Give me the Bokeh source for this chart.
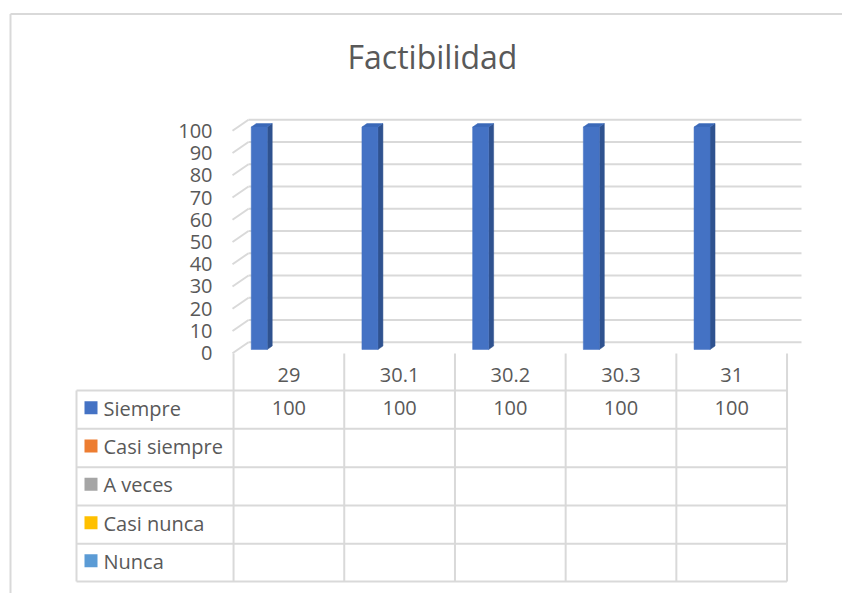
from bokeh.plotting import figure
from bokeh.models import Range1d
from bokeh.core.properties import value
from bokeh.embed import file_html
from bokeh.resources import INLINE

# ---------------- data ----------------
title_text = "Factibilidad"
categories = ["29", "30.1", "30.2", "30.3", "31"]
series_names = ["Siempre", "Casi siempre", "A veces", "Casi nunca", "Nunca"]
siempre = [100, 100, 100, 100, 100]
casi_siempre = [None, None, None, None, None]
a_veces = [None, None, None, None, None]
casi_nunca = [None, None, None, None, None]
nunca = [None, None, None, None, None]
y_ticks = [0, 10, 20, 30, 40, 50, 60, 70, 80, 90, 100]

series_values = [siempre, casi_siempre, a_veces, casi_nunca, nunca]

# ---------------- styles ----------------
series_colors = ["#4472C4", "#ED7D31", "#A5A5A5", "#FFC000", "#5B9BD5"]
bar_side = "#2F528F"
bar_top = "#3B68B8"
grid_col = "#D9D9D9"
text_col = "#595959"
FONT = value("Open Sans")

# ---------------- layout (figure pixels) ----------------
W, H = 842, 593
CAT0_PX = 288.4      # pixel centre of first category
CAT_W = 110.7        # pixel width of a category column
ZERO_PY = 341.7      # pixel y of value 0 on the back wall
PX_PER_UNIT = 2.224  # pixels per value unit


def px_x(px):
    return (px - CAT0_PX) / CAT_W


def py_y(py):
    return (ZERO_PY - py) / PX_PER_UNIT


p = figure(width=W, height=H, output_backend="svg", toolbar_location=None,
           x_range=Range1d(px_x(0), px_x(W)), y_range=Range1d(py_y(H), py_y(0)),
           x_axis_type=None, y_axis_type=None, min_border=0)
p.outline_line_color = None
p.background_fill_color = "white"
p.border_fill_color = "white"

# chart border (top and left visible)
p.segment(x0=[px_x(10), px_x(10)], y0=[py_y(13.5), py_y(13.5)],
          x1=[px_x(W + 5), px_x(10)], y1=[py_y(13.5), py_y(H + 5)],
          line_color=grid_col, line_width=2)

# title
p.text(x=[px_x(432)], y=[py_y(55.5)], text=[title_text], text_font=FONT,
       text_font_size=value("32px"), text_color=text_col,
       text_align="center", text_baseline="middle")

# back-wall gridlines and side-wall diagonals
n = len(categories)
wall_left = px_x(248)
wall_right = px_x(801)
depth_dx = px_x(248) - px_x(232)
depth_dy = 11 / PX_PER_UNIT
p.segment(x0=[wall_left] * len(y_ticks), y0=y_ticks,
          x1=[wall_right] * len(y_ticks), y1=y_ticks,
          line_color=grid_col, line_width=2)
p.segment(x0=[wall_left - depth_dx] * len(y_ticks), y0=[t - depth_dy for t in y_ticks],
          x1=[wall_left] * len(y_ticks), y1=y_ticks,
          line_color=grid_col, line_width=2)

# y tick labels
p.text(x=[px_x(212)] * len(y_ticks), y=[t - 11 / PX_PER_UNIT for t in y_ticks],
       text=[str(t) for t in y_ticks], text_font=FONT, text_font_size=value("20px"),
       text_color=text_col, text_align="right", text_baseline="middle")

# bars (3D look)
bar_off = -0.268
bar_w = 16 / CAT_W
base = py_y(349)
dx = 5 / CAT_W
dy = 3.5 / PX_PER_UNIT
for j, vals in enumerate(series_values):
    xs_c, tops = [], []
    for i, v in enumerate(vals):
        if v is None:
            continue
        xs_c.append(i + bar_off)
        tops.append(v + base)
    if not xs_c:
        continue
    side_xs, side_ys, top_xs, top_ys = [], [], [], []
    for xc, t in zip(xs_c, tops):
        x0, x1 = xc - bar_w / 2, xc + bar_w / 2
        side_xs.append([x1, x1, x1 + dx, x1 + dx])
        side_ys.append([base, t, t + dy, base + dy])
        top_xs.append([x0, x1, x1 + dx, x0 + dx])
        top_ys.append([t, t, t + dy, t + dy])
    p.patches(side_xs, side_ys, fill_color=bar_side, line_color=bar_side, line_width=0.5)
    p.patches(top_xs, top_ys, fill_color=bar_top, line_color=bar_top, line_width=0.5)
    p.vbar(x=xs_c, width=bar_w, bottom=base, top=tops,
           fill_color=series_colors[j], line_color=series_colors[j], line_width=0.5)

# data table
row_lines_py = [390, 428.3, 466.7, 505, 543.3, 581]
table_left = px_x(76)
table_right = n - 0.5
p.segment(x0=[table_left] * len(row_lines_py), y0=[py_y(r) for r in row_lines_py],
          x1=[table_right] * len(row_lines_py), y1=[py_y(r) for r in row_lines_py],
          line_color=grid_col, line_width=2)
col_xs = [i - 0.5 for i in range(n + 1)]
p.segment(x0=col_xs, y0=[py_y(353)] * len(col_xs), x1=col_xs, y1=[py_y(581)] * len(col_xs),
          line_color=grid_col, line_width=2)
p.segment(x0=[table_left], y0=[py_y(390)], x1=[table_left], y1=[py_y(581)],
          line_color=grid_col, line_width=2)

# category header labels
p.text(x=list(range(n)), y=[py_y(374.5)] * n, text=categories, text_font=FONT,
       text_font_size=value("20px"), text_color=text_col,
       text_align="center", text_baseline="middle")

# rows: legend keys, names, values
for j, name in enumerate(series_names):
    top_py, bot_py = row_lines_py[j], row_lines_py[j + 1]
    mid = (top_py + bot_py) / 2
    p.rect(x=[px_x(90.5)], y=[py_y(mid - 2)], width=13 / CAT_W, height=13 / PX_PER_UNIT,
           fill_color=series_colors[j], line_color=None)
    p.text(x=[px_x(103)], y=[py_y(mid - 1.5)], text=[name], text_font=FONT,
           text_font_size=value("20px"), text_color=text_col,
           text_align="left", text_baseline="middle")
    vals = series_values[j]
    xs = [i for i, v in enumerate(vals) if v is not None]
    txt = [str(v) for v in vals if v is not None]
    if xs:
        p.text(x=xs, y=[py_y(mid - 1.5)] * len(xs), text=txt, text_font=FONT,
               text_font_size=value("20px"), text_color=text_col,
               text_align="center", text_baseline="middle")

open("out.html", "w").write(file_html(p, INLINE))
